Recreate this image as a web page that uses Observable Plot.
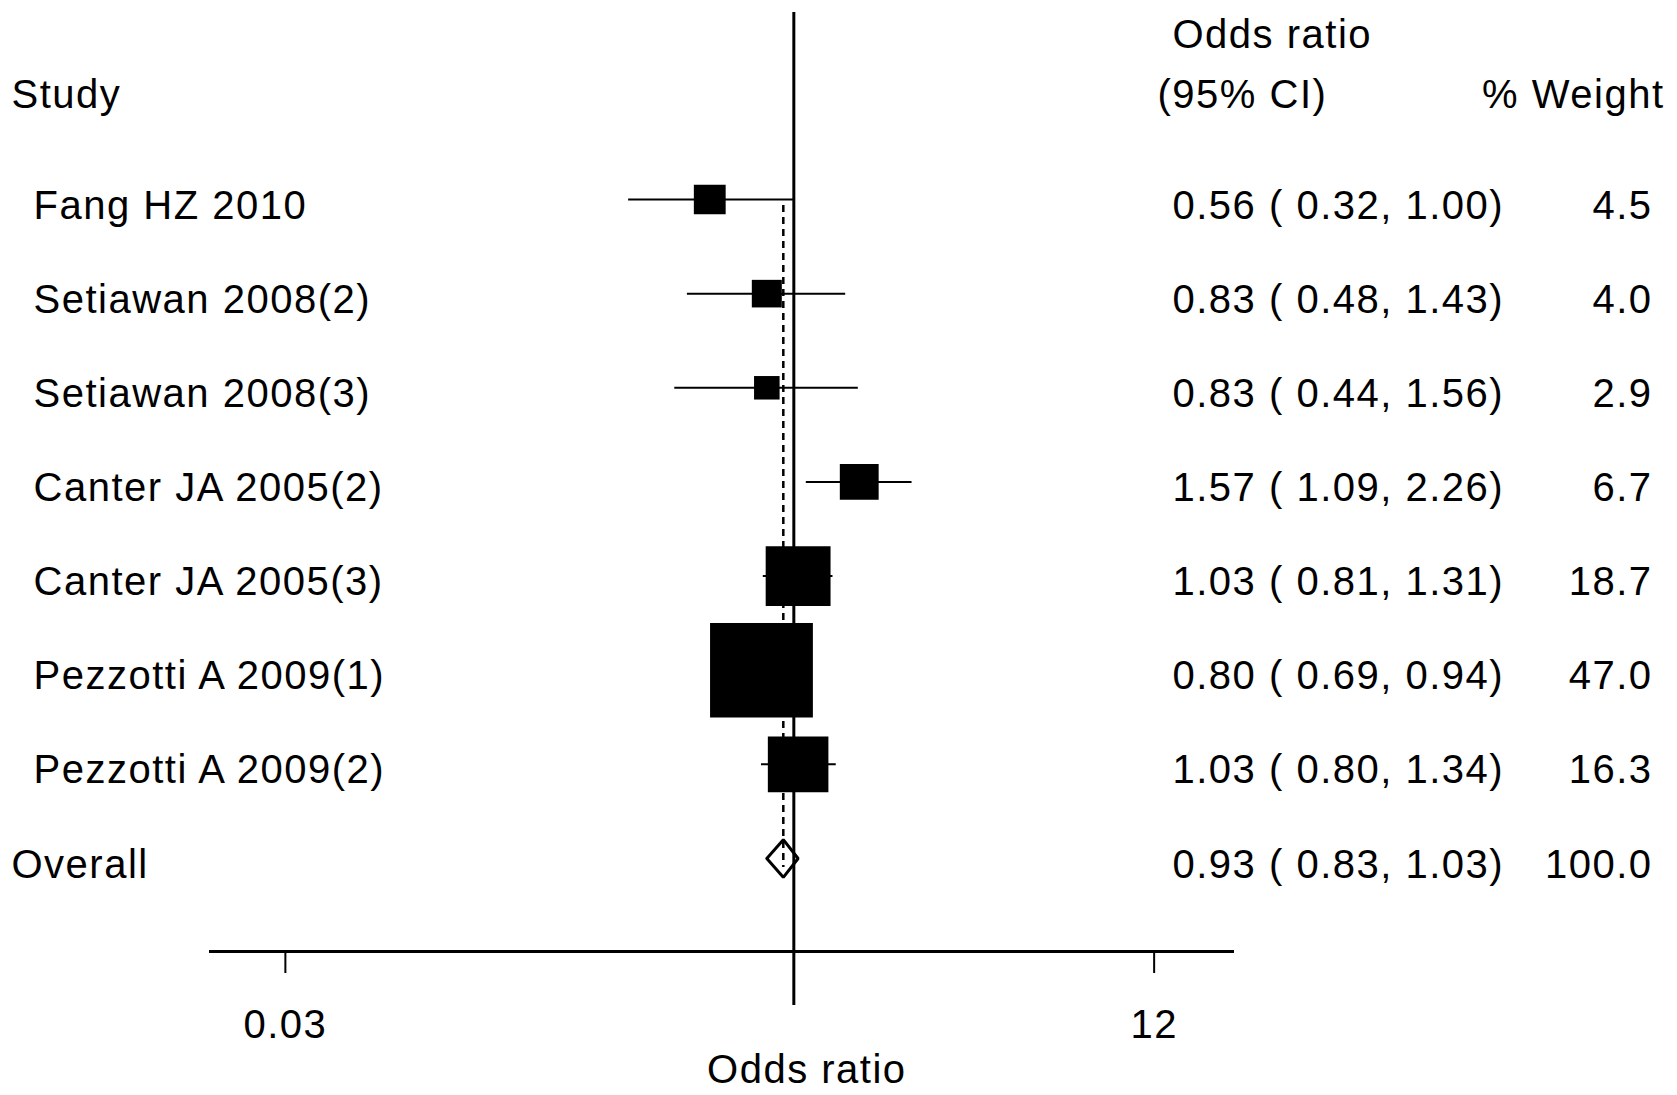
<!DOCTYPE html>
<html>
<head>
<meta charset="utf-8">
<script src="https://cdn.jsdelivr.net/npm/d3@7"></script>
<script src="https://cdn.jsdelivr.net/npm/@observablehq/plot@0.6"></script>
<style>
  html, body { margin: 0; padding: 0; background: #fff; }
</style>
</head>
<body>
<div id="chart"></div>
<script>
// ---- data ----
const studyNames = ["Fang HZ 2010", "Setiawan 2008(2)", "Setiawan 2008(3)", "Canter JA 2005(2)",
                    "Canter JA 2005(3)", "Pezzotti A 2009(1)", "Pezzotti A 2009(2)"];
const oddsRatios = [0.56, 0.83, 0.83, 1.57, 1.03, 0.80, 1.03];
const ciLower    = [0.32, 0.48, 0.44, 1.09, 0.81, 0.69, 0.80];
const ciUpper    = [1.00, 1.43, 1.56, 2.26, 1.31, 0.94, 1.34];
const weights    = [4.5, 4.0, 2.9, 6.7, 18.7, 47.0, 16.3];

const overallName = "Overall";
const overallOR = 0.93;
const overallLower = 0.83;
const overallUpper = 1.03;
const overallWeight = 100.0;

const headerStudy = "Study";
const headerOR1 = "Odds ratio";
const headerOR2 = "(95% CI)";
const headerWeight = "% Weight";
const axisTitle = "Odds ratio";
const tickValues = [0.03, 12];
const tickLabels = ["0.03", "12"];

// ---- derived tables ----
const studies = studyNames.map((name, i) => ({
  name, row: i, or: oddsRatios[i], lo: ciLower[i], hi: ciUpper[i], w: weights[i]
}));
const overallRow = studies.length;
const overall = {name: overallName, row: overallRow, or: overallOR, lo: overallLower, hi: overallUpper, w: overallWeight};
const allRows = [...studies, overall];
const fmtCI = d => `${d.or.toFixed(2)} ( ${d.lo.toFixed(2)}, ${d.hi.toFixed(2)})`;
const fmtW = d => d.w.toFixed(1);

const dh = 0.2; // diamond half-height in rows
const diamond = [
  {x: overall.lo, y: overallRow},
  {x: overall.or, y: overallRow - dh},
  {x: overall.hi, y: overallRow},
  {x: overall.or, y: overallRow + dh},
  {x: overall.lo, y: overallRow}
];

const boxSymbol = {
  draw(ctx, size) {
    const w = Math.sqrt(size), h = w * 0.92;
    ctx.moveTo(-w / 2, -h / 2);
    ctx.lineTo(w / 2, -h / 2);
    ctx.lineTo(w / 2, h / 2);
    ctx.lineTo(-w / 2, h / 2);
    ctx.closePath();
  }
};

const chart = Plot.plot({
  width: 1677,
  height: 1095,
  marginLeft: 210,
  marginRight: 445,
  marginTop: 12,
  marginBottom: 144,
  style: {
    fontFamily: "'Liberation Sans', Arial, sans-serif",
    fontSize: "40px",
    letterSpacing: "1.5px",
    color: "#000",
    background: "#fff"
  },
  x: {type: "log", domain: [0.0179, 20.6]},
  y: {domain: [0, overallRow], range: [199, 858], axis: null},
  r: {type: "sqrt", domain: [0, 1], range: [0, 15 / Math.sqrt(Math.PI)]},
  marks: [
    // null line at OR = 1
    Plot.ruleX([1], {stroke: "#000", strokeWidth: 3, insetBottom: -54}),
    // overall effect dashed line
    Plot.ruleX([overall], {x: "or", y1: 0, y2: overallRow, insetTop: 6, insetBottom: -9,
      stroke: "#000", strokeWidth: 2.5, strokeDasharray: "7,5"}),
    // confidence intervals
    Plot.ruleY(studies, {y: "row", x1: "lo", x2: "hi", stroke: "#000", strokeWidth: 2}),
    // weighted boxes
    Plot.dot(studies, {x: "or", y: "row", r: "w", symbol: boxSymbol, fill: "#000", stroke: "none"}),
    // overall diamond
    Plot.line(diamond, {x: "x", y: "y", stroke: "#000", strokeWidth: 3, fill: "none", strokeLinejoin: "miter"}),
    // study labels
    Plot.text(studies, {y: "row", text: "name", frameAnchor: "left", dx: -177, dy: 19,
      textAnchor: "start", lineAnchor: "bottom", fill: "#000"}),
    Plot.text([overall], {y: "row", text: "name", frameAnchor: "left", dx: -199, dy: 19,
      textAnchor: "start", lineAnchor: "bottom", fill: "#000"}),
    // OR (95% CI) column
    Plot.text(allRows, {y: "row", text: fmtCI, frameAnchor: "right", dx: -60, dy: 19,
      textAnchor: "start", lineAnchor: "bottom", fill: "#000"}),
    // weight column
    Plot.text(allRows, {y: "row", text: fmtW, frameAnchor: "right", dx: 420, dy: 19,
      textAnchor: "end", lineAnchor: "bottom", fill: "#000"}),
    // headers
    Plot.text([headerStudy], {text: d => d, frameAnchor: "top-left", dx: -199, dy: 95,
      textAnchor: "start", lineAnchor: "bottom", fill: "#000"}),
    Plot.text([headerOR1], {text: d => d, frameAnchor: "top-right", dx: -60, dy: 35,
      textAnchor: "start", lineAnchor: "bottom", fill: "#000"}),
    Plot.text([headerOR2], {text: d => d, frameAnchor: "top-right", dx: -75, dy: 95,
      textAnchor: "start", lineAnchor: "bottom", fill: "#000"}),
    Plot.text([headerWeight], {text: d => d, frameAnchor: "top-right", dx: 432, dy: 95,
      textAnchor: "end", lineAnchor: "bottom", fill: "#000"}),
    // x axis
    Plot.frame({anchor: "bottom", stroke: "#000", strokeWidth: 3}),
    Plot.axisX({ticks: tickValues, tickFormat: (d, i) => tickLabels[tickValues.indexOf(d)],
      tickSize: 22, tickPadding: 36, fontSize: 40, strokeWidth: 2, stroke: "#000", fill: "#000", label: null}),
    Plot.text([axisTitle], {text: d => d, x: 1, frameAnchor: "bottom", dx: 13, dy: 131,
      textAnchor: "middle", lineAnchor: "bottom", fill: "#000"})
  ]
});

document.getElementById("chart").appendChild(chart);
</script>
</body>
</html>
